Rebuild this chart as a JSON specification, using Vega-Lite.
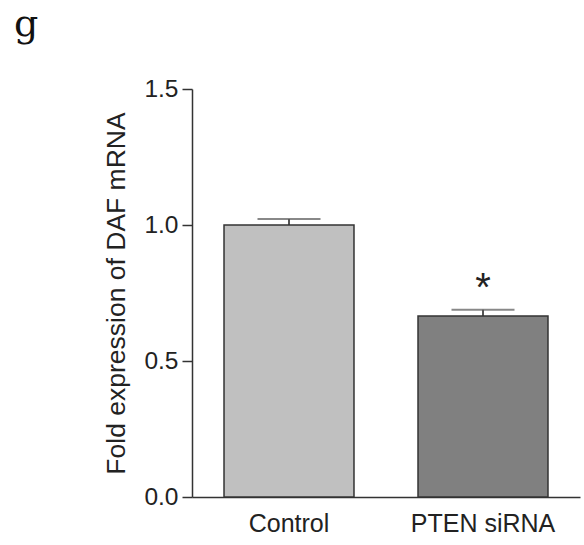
{
  "$schema": "https://vega.github.io/schema/vega-lite/v6.json",
  "autosize": "none",
  "width": 388,
  "height": 408,
  "padding": {"left": 192, "top": 89, "right": 4, "bottom": 48},
  "background": "white",
  "title": {
    "text": "g",
    "anchor": "start",
    "frame": "group",
    "font": "DejaVu Serif",
    "fontSize": 38,
    "fontWeight": "normal",
    "color": "#111",
    "baseline": "alphabetic",
    "offset": 0,
    "dx": -178,
    "dy": -2
  },
  "config": {
    "view": {"stroke": null},
    "font": "Liberation Sans",
    "axis": {"labelColor": "#222", "titleColor": "#222", "domainColor": "#333", "tickColor": "#333", "domainWidth": 1.5, "tickWidth": 1.5, "grid": false}
  },
  "data": {
    "values": [
      {"group": "Control", "mean": 1.0, "upper": 1.022, "sig": "", "sig_y": 0.72},
      {"group": "PTEN siRNA", "mean": 0.665, "upper": 0.688, "sig": "*", "sig_y": 0.72}
    ]
  },
  "encoding": {
    "x": {
      "field": "group",
      "type": "nominal",
      "sort": null,
      "scale": {"paddingInner": 0.33, "paddingOuter": 0.165},
      "axis": {"title": null, "labelAngle": 0, "ticks": false, "labelPadding": 14, "labelFontSize": 25}
    }
  },
  "layer": [
    {
      "mark": {"type": "rule", "color": "#555", "strokeWidth": 2},
      "encoding": {
        "y": {"field": "mean", "type": "quantitative"},
        "y2": {"field": "upper"}
      }
    },
    {
      "mark": {"type": "tick", "orient": "horizontal", "color": "#555", "thickness": 2, "size": 63},
      "encoding": {
        "y": {"field": "upper", "type": "quantitative"}
      }
    },
    {
      "mark": {"type": "bar", "stroke": "#333", "strokeWidth": 1.5},
      "encoding": {
        "y": {
          "field": "mean",
          "type": "quantitative",
          "scale": {"domain": [0, 1.5], "nice": false},
          "axis": {
            "title": "Fold expression of DAF mRNA",
            "titleFontSize": 26.5,
            "titleFontWeight": "normal",
            "titleX": -68,
            "titleBaseline": "alphabetic",
            "values": [0, 0.5, 1, 1.5],
            "format": ".1f",
            "tickSize": 10,
            "labelPadding": 4,
            "labelFontSize": 24.5
          }
        },
        "color": {
          "field": "group",
          "type": "nominal",
          "sort": null,
          "scale": {"range": ["#c0c0c0", "#808080"]},
          "legend": null
        }
      }
    },
    {
      "mark": {"type": "text", "fontSize": 40, "baseline": "alphabetic", "color": "#222", "font": "Liberation Sans"},
      "encoding": {
        "y": {"field": "sig_y", "type": "quantitative"},
        "text": {"field": "sig"}
      }
    }
  ]
}
